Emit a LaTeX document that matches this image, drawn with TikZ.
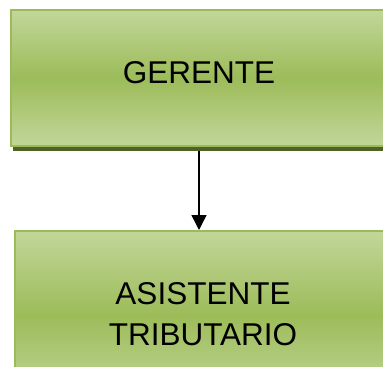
\documentclass[tikz,border=0pt]{standalone}
\usepackage{fontspec}
\setmainfont{Liberation Sans}
\usetikzlibrary{arrows.meta}
\definecolor{lightg}{HTML}{C2D69A}
\definecolor{midg}{HTML}{9CBC59}
\definecolor{edgeg}{HTML}{9BBB59}
\definecolor{shadowg}{HTML}{4F6228}
\tikzset{
  box/.style={draw=edgeg, line width=2bp, top color=lightg, bottom color=lightg, middle color=midg,
    minimum width=378bp, anchor=north west, inner sep=0pt},
  lbl/.style={font=\fontsize{31.5bp}{41bp}\selectfont, align=center, inner sep=0pt},
  conn/.style={line width=1.4bp, -{Triangle[width=15bp,length=15bp]}}
}
\begin{document}
\begin{tikzpicture}[x=1bp,y=-1bp]
\useasboundingbox (0,0) rectangle (383,367);
\fill[shadowg] (13,14) rectangle (395,151);
\node[box, minimum height=136bp] (g) at (10,9) {};
\node[box, minimum height=168bp] (a) at (14,230) {};
\node[lbl] (gt) at (199,72.5) {GERENTE};
\node[lbl] (at) at (203,314) {ASISTENTE\\TRIBUTARIO};
\coordinate (gs) at (199,151);
\coordinate (an) at (199,230);
\draw[conn] (gs) -- (an);
\end{tikzpicture}
\end{document}
